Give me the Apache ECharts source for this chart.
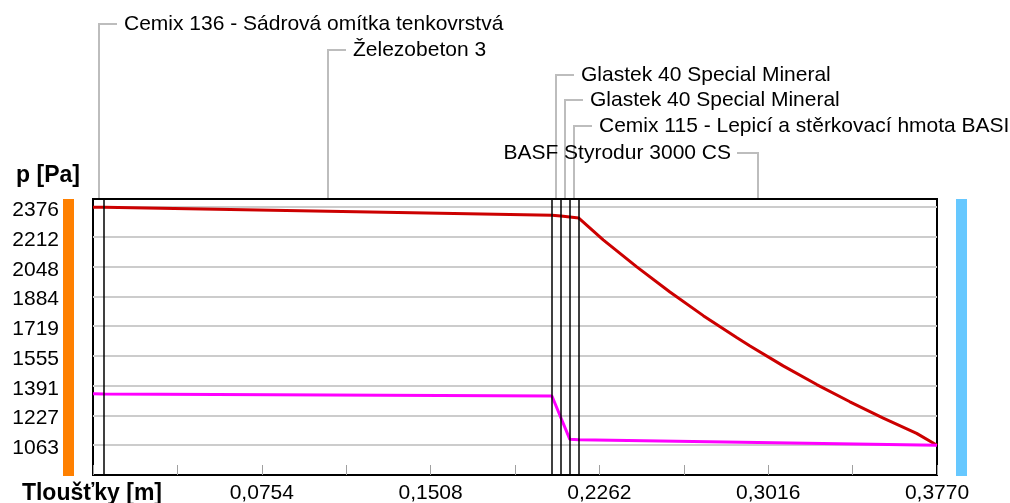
<!DOCTYPE html>
<html>
<head>
<meta charset="utf-8">
<title>Průběh tlaků vodní páry</title>
<script src="https://cdn.jsdelivr.net/npm/echarts@6/dist/echarts.min.js"></script>
<style>
  html, body { margin: 0; padding: 0; background: #fff; }
  #chart { width: 1010px; height: 503px; }
</style>
</head>
<body>
<div id="chart"></div>
<script>
// vrstvy konstrukce, hranice v m
const layerNames = [
  'Cemix 136 - Sádrová omítka tenkovrstvá',
  'Železobeton 3',
  'Glastek 40 Special Mineral',
  'Glastek 40 Special Mineral',
  'Cemix 115 - Lepicí a stěrkovací hmota BASI',
  'BASF Styrodur 3000 CS'
];
const layerEdges = [0, 0.005, 0.205, 0.209, 0.213, 0.217, 0.377];

// nasycený tlak vodní páry (červená)
const satX = [0, 0.005, 0.205, 0.209, 0.213, 0.217, 0.2279, 0.2429, 0.2577, 0.2726, 0.2875, 0.2935, 0.3083, 0.3233, 0.3381, 0.353, 0.3679, 0.377];
const satP = [2376, 2375, 2331, 2327, 2322, 2316, 2196, 2047, 1908, 1778, 1657, 1611, 1501, 1398, 1303, 1213, 1129, 1063];

// částečný tlak vodní páry (purpurová)
const parX = [0, 0.005, 0.205, 0.209, 0.213, 0.217, 0.377];
const parP = [1347, 1346, 1335, 1215, 1096, 1094, 1063];

// popisky os
const yLabels = ['1063', '1227', '1391', '1555', '1719', '1884', '2048', '2212', '2376'];
const xLabels = ['0,0754', '0,1508', '0,2262', '0,3016', '0,3770'];

const FONT = "'Liberation Sans', Arial, sans-serif";
const FSIZE = 21;

const yMin = 899.38, yStep = 164.02, yMax = 2421;
const xStep = 0.0377;

const chart = echarts.init(document.getElementById('chart'));

chart.setOption({
  animation: false,
  backgroundColor: '#fff',
  grid: {
    left: 93, top: 199, width: 844, height: 276,
    containLabel: false,
    outerBoundsMode: 'none',
    show: true,
    backgroundColor: '#fff',
    borderColor: '#000',
    borderWidth: 2
  },
  xAxis: {
    type: 'value',
    min: 0, max: 0.377, interval: xStep,
    name: 'Tloušťky [m]',
    nameLocation: 'start',
    nameGap: -69,
    nameTextStyle: {
      fontFamily: FONT, fontWeight: 'bold', fontSize: 23, color: '#000',
      align: 'right', verticalAlign: 'top', lineHeight: 38
    },
    axisLine: { show: false },
    axisTick: { show: true, inside: true, length: 10, lineStyle: { color: '#a0a0a0', width: 1 } },
    splitLine: { show: false },
    axisLabel: {
      margin: 8,
      fontFamily: FONT, fontSize: FSIZE, color: '#000',
      formatter: function (v) {
        const k = Math.round(v / xStep);
        if (k > 0 && k % 2 === 0) return xLabels[k / 2 - 1] || '';
        return '';
      }
    }
  },
  yAxis: {
    type: 'value',
    min: yMin, max: yMax, interval: yStep,
    name: 'p [Pa]',
    nameLocation: 'end',
    nameGap: 23,
    nameTextStyle: {
      fontFamily: FONT, fontWeight: 'bold', fontSize: 23, color: '#000',
      align: 'right', verticalAlign: 'middle', padding: [0, 13, 0, 0]
    },
    axisLine: { show: false },
    axisTick: { show: false },
    splitLine: {
      show: true, showMinLine: false, showMaxLine: false,
      lineStyle: { color: '#cccccc', width: 2 }
    },
    axisLabel: {
      margin: 34,
      fontFamily: FONT, fontSize: FSIZE, color: '#000',
      verticalAlign: 'top', lineHeight: 6,
      formatter: function (v) {
        const r = (v - yMin) / yStep;
        const k = Math.round(r);
        if (Math.abs(r - k) > 0.01) return '';
        return yLabels[k - 1] || '';
      }
    }
  },
  series: [
    {
      name: 'p,sat',
      type: 'line',
      z: 3,
      showSymbol: false,
      data: satX.map(function (x, i) { return [x, satP[i]]; }),
      lineStyle: { color: '#cc0000', width: 3 },
      // hranice vrstev
      markLine: {
        silent: true,
        symbol: 'none',
        precision: 4,
        label: { show: false },
        lineStyle: { color: '#000', width: 1.5, type: 'solid' },
        data: layerEdges.slice(1, -1).map(function (b) { return { xAxis: b }; })
      }
    },
    {
      name: 'p',
      type: 'line',
      z: 3,
      showSymbol: false,
      data: parX.map(function (x, i) { return [x, parP[i]]; }),
      lineStyle: { color: '#ff00ff', width: 3 }
    }
  ]
});

// popisky vrstev s vodicími čarami
const rowY = [24, 50, 75, 100, 126, 153];
const rowSide = ['right', 'right', 'right', 'right', 'right', 'left'];
const plotTop = 198;
const graphics = [
  { type: 'rect', shape: { x: 63, y: 199, width: 11, height: 277 }, style: { fill: '#ff8000' } },
  { type: 'rect', shape: { x: 956, y: 199, width: 11, height: 277 }, style: { fill: '#66c8ff' } }
];
layerNames.forEach(function (name, i) {
  const mid = (layerEdges[i] + layerEdges[i + 1]) / 2;
  const lx = Math.round(chart.convertToPixel({ xAxisIndex: 0 }, mid));
  const y = rowY[i];
  const right = rowSide[i] === 'right';
  graphics.push({
    type: 'polyline',
    silent: true,
    shape: { points: [[lx, plotTop], [lx, y], [right ? lx + 18 : lx - 21, y]] },
    style: { stroke: '#bdbdbd', lineWidth: 2, fill: null }
  });
  graphics.push({
    type: 'text',
    silent: true,
    x: right ? lx + 25 : lx - 27,
    y: y,
    style: {
      text: name,
      font: FSIZE + 'px ' + FONT,
      fill: '#000',
      align: right ? 'left' : 'right',
      verticalAlign: 'middle'
    }
  });
});
chart.setOption({ graphic: graphics });
</script>
</body>
</html>
